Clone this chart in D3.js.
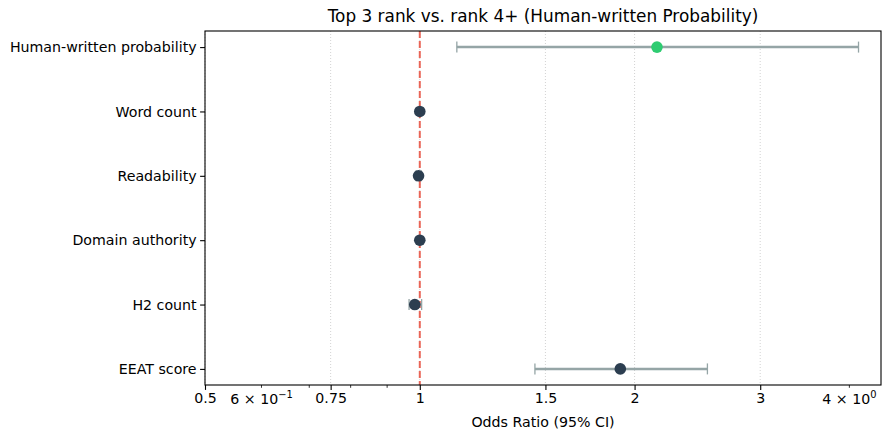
<!DOCTYPE html>
<html>
<head>
<meta charset="utf-8">
<script src="https://cdn.jsdelivr.net/npm/d3@7"></script>
<style>
  body { margin: 0; background: #fff; }
  text { font-family: "DejaVu Sans", sans-serif; fill: #000; }
</style>
</head>
<body>
<div id="chart"></div>
<script>
// rows from top to bottom
const features = ['Human-written probability', 'Word count', 'Readability', 'Domain authority', 'H2 count', 'EEAT score'];
const oddsRatio = [2.15, 1.0, 0.996, 1.0, 0.984, 1.91];
const ciLow = [1.127, 0.999, 0.988, 0.998, 0.966, 1.45];
const ciHigh = [4.12, 1.001, 1.005, 1.002, 1.006, 2.53];
const highlighted = [true, false, false, false, false, false];
const majorTicks = [0.5, 0.75, 1, 1.5, 2, 3];
const minorTicks = [0.6, 0.7, 0.8, 0.9, 4];

const width = 890;
const height = 440;
const margin = { top: 31, right: 9, bottom: 55, left: 205 };
const tickFont = '14.2px';

const svg = d3.select('#chart')
  .append('svg')
  .attr('width', width)
  .attr('height', height);

const x = d3.scaleLog()
  .domain([0.5, 4.43])
  .range([margin.left, width - margin.right]);

// ylim like matplotlib: -0.25 .. 5.25, row 0 at bottom
const y = d3.scaleLinear()
  .domain([-0.25, features.length - 0.75])
  .range([height - margin.bottom, margin.top]);
const rowY = i => y(features.length - 1 - i);

// grid on major ticks
svg.append('g')
  .selectAll('line')
  .data(majorTicks)
  .join('line')
    .attr('x1', d => x(d)).attr('x2', d => x(d))
    .attr('y1', margin.top).attr('y2', height - margin.bottom)
    .attr('stroke', '#b0b0b0')
    .attr('stroke-opacity', 0.7)
    .attr('stroke-width', 0.8)
    .attr('stroke-dasharray', '1,2');

// reference line at 1
svg.append('line')
  .attr('x1', x(1)).attr('x2', x(1))
  .attr('y1', margin.top).attr('y2', height - margin.bottom)
  .attr('stroke', '#e74c3c')
  .attr('stroke-opacity', 0.85)
  .attr('stroke-width', 2)
  .attr('stroke-dasharray', '7,3');

// error bars
const rows = features.map((f, i) => ({ f, i, or: oddsRatio[i], lo: ciLow[i], hi: ciHigh[i], hl: highlighted[i] }));
const eb = svg.append('g').attr('stroke', '#95a5a6');
eb.selectAll('line.ci')
  .data(rows)
  .join('line')
    .attr('class', 'ci')
    .attr('x1', d => x(d.lo)).attr('x2', d => x(d.hi))
    .attr('y1', d => rowY(d.i)).attr('y2', d => rowY(d.i))
    .attr('stroke-width', 2.5);
eb.selectAll('line.caplo')
  .data(rows)
  .join('line')
    .attr('class', 'caplo')
    .attr('x1', d => x(d.lo)).attr('x2', d => x(d.lo))
    .attr('y1', d => rowY(d.i) - 5.5).attr('y2', d => rowY(d.i) + 5.5)
    .attr('stroke-width', 1.3);
eb.selectAll('line.caphi')
  .data(rows)
  .join('line')
    .attr('class', 'caphi')
    .attr('x1', d => x(d.hi)).attr('x2', d => x(d.hi))
    .attr('y1', d => rowY(d.i) - 5.5).attr('y2', d => rowY(d.i) + 5.5)
    .attr('stroke-width', 1.3);

// points
svg.append('g')
  .selectAll('circle')
  .data(rows)
  .join('circle')
    .attr('cx', d => x(d.or))
    .attr('cy', d => rowY(d.i))
    .attr('r', 5.8)
    .attr('fill', d => d.hl ? '#2ecc71' : '#2c3e50');

// x axis
const xAxis = svg.append('g')
  .attr('transform', `translate(0,${height - margin.bottom})`);
xAxis.call(d3.axisBottom(x).tickValues(majorTicks).tickFormat(d3.format('')).tickSize(4.9).tickPadding(3.5))
  .attr('font-size', tickFont);
xAxis.select('.domain').remove();
xAxis.selectAll('text').style('font-family', '"DejaVu Sans", sans-serif');
xAxis.selectAll('.tick line').attr('stroke-width', 1.1);

const minor = xAxis.append('g')
  .selectAll('g')
  .data(minorTicks)
  .join('g')
    .attr('transform', d => `translate(${x(d)},0)`);
minor.append('line')
  .attr('y2', 2.8)
  .attr('stroke', '#000')
  .attr('stroke-width', 0.8);
const sci = { 0.6: ['6', '−1'], 4: ['4', '0'] };
const labelled = minor.filter(d => sci[d]);
const lt = labelled.append('text')
  .attr('y', 18.5)
  .attr('text-anchor', 'middle')
  .attr('font-size', tickFont);
lt.append('tspan').text(d => sci[d][0] + ' × 10');
lt.append('tspan')
  .attr('dy', -6)
  .attr('font-size', '9.9px')
  .text(d => sci[d][1]);

// y axis
const yAxis = svg.append('g')
  .attr('transform', `translate(${margin.left},0)`);
yAxis.call(d3.axisLeft(y).tickValues(d3.range(features.length)).tickFormat(i => features[features.length - 1 - i]).tickSize(4.9).tickPadding(3.5))
  .attr('font-size', tickFont);
yAxis.select('.domain').remove();
yAxis.selectAll('text').style('font-family', '"DejaVu Sans", sans-serif');
yAxis.selectAll('.tick line').attr('stroke-width', 1.1);

// frame
svg.append('rect')
  .attr('x', margin.left)
  .attr('y', margin.top)
  .attr('width', width - margin.left - margin.right)
  .attr('height', height - margin.top - margin.bottom)
  .attr('fill', 'none')
  .attr('stroke', '#000')
  .attr('stroke-width', 1.1);

// labels
svg.append('text')
  .attr('x', (margin.left + width - margin.right) / 2)
  .attr('y', 22)
  .attr('text-anchor', 'middle')
  .attr('font-size', '16.9px')
  .text('Top 3 rank vs. rank 4+ (Human-written Probability)');

svg.append('text')
  .attr('x', (margin.left + width - margin.right) / 2)
  .attr('y', 427)
  .attr('text-anchor', 'middle')
  .attr('font-size', tickFont)
  .text('Odds Ratio (95% CI)');
</script>
</body>
</html>
